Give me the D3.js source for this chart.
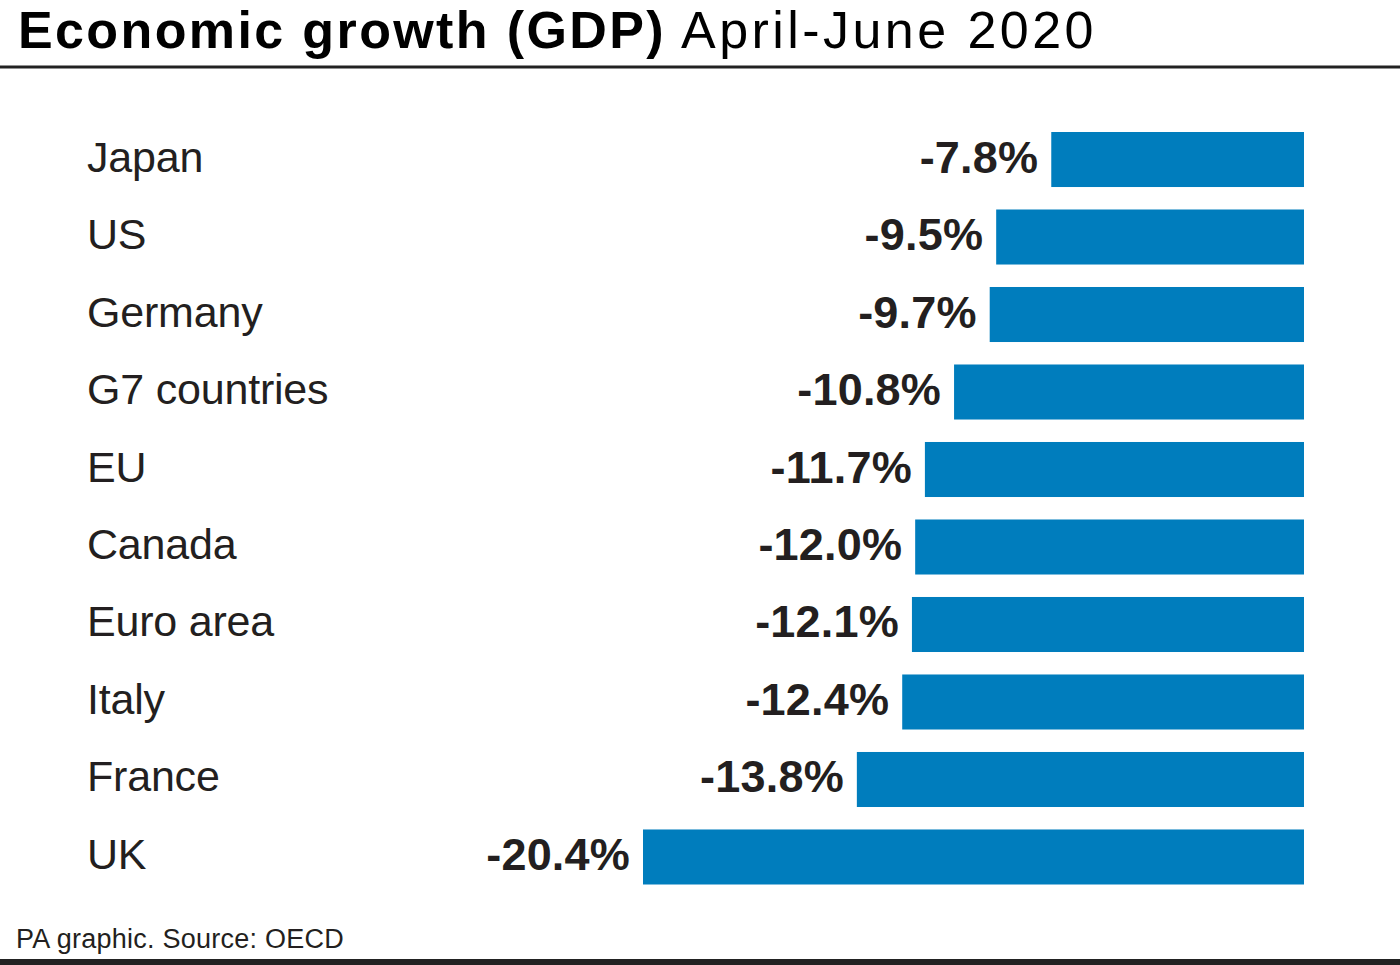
<!DOCTYPE html>
<html><head><meta charset="utf-8">
<script src="https://cdn.jsdelivr.net/npm/d3@7"></script>
<style>html,body{margin:0;padding:0;background:#fff;}svg{display:block;}</style>
</head><body>
<svg id="chart" width="1400" height="965"></svg>
<script>
const categories = ["Japan","US","Germany","G7 countries","EU","Canada","Euro area","Italy","France","UK"];
const values = [-7.8,-9.5,-9.7,-10.8,-11.7,-12.0,-12.1,-12.4,-13.8,-20.4];
const titleBold = "Economic growth (GDP)";
const titleRegular = "April-June 2020";
const footer = "PA graphic. Source: OECD";

const W = 1400, H = 965;
const svg = d3.select("#chart");
const font = "'Liberation Sans', Arial, Helvetica, sans-serif";
const ink = "#231f20";
const barColor = "#007dbd";

function fit(sel, target) {
  const node = sel.node();
  const n = sel.text().length;
  const w = node.getComputedTextLength();
  sel.attr("letter-spacing", ((target - w) / n).toFixed(2));
}

// Title
const t1 = svg.append("text").attr("x", 18).attr("y", 47.5)
  .attr("font-family", font).attr("font-weight", 700).attr("font-size", 52)
  .attr("fill", "#000").text(titleBold);
fit(t1, 648);
const t2 = svg.append("text").attr("x", 681).attr("y", 47.5)
  .attr("font-family", font).attr("font-weight", 400).attr("font-size", 52)
  .attr("fill", "#000").text(titleRegular);
fit(t2, 416);

svg.append("rect").attr("x", 0).attr("y", 65.5).attr("width", W).attr("height", 3).attr("fill", "#222");
svg.append("rect").attr("x", 0).attr("y", 959).attr("width", W).attr("height", 6).attr("fill", "#222");

// Scales
const x = d3.scaleLinear().domain([-20.4, 0]).range([643, 1304]);
const y = d3.scaleBand().domain(categories).range([132, 884.5]).paddingInner(0.29).paddingOuter(0);

const g = svg.append("g");
g.selectAll("rect.bar").data(categories).join("rect")
  .attr("class", "bar")
  .attr("x", (d, i) => x(values[i]))
  .attr("y", d => y(d))
  .attr("width", (d, i) => x(0) - x(values[i]))
  .attr("height", y.bandwidth())
  .attr("fill", barColor);

g.selectAll("text.cat").data(categories).join("text")
  .attr("class", "cat")
  .attr("x", 87)
  .attr("y", d => y(d) + y.bandwidth() / 2 + 12)
  .attr("font-family", font).attr("font-size", 43)
  .attr("letter-spacing", -0.2)
  .attr("fill", ink).text(d => d);

g.selectAll("text.val").data(categories).join("text")
  .attr("class", "val")
  .attr("x", (d, i) => x(values[i]) - 13)
  .attr("y", d => y(d) + y.bandwidth() / 2 + 13)
  .attr("text-anchor", "end")
  .attr("font-family", font).attr("font-weight", 700).attr("font-size", 45)
  .attr("letter-spacing", 0.2)
  .attr("fill", ink).text((d, i) => "-" + Math.abs(values[i]).toFixed(1) + "%");

const f = svg.append("text").attr("x", 16).attr("y", 948)
  .attr("font-family", font).attr("font-size", 27)
  .attr("fill", ink).text(footer);
fit(f, 328);
</script>
</body></html>
